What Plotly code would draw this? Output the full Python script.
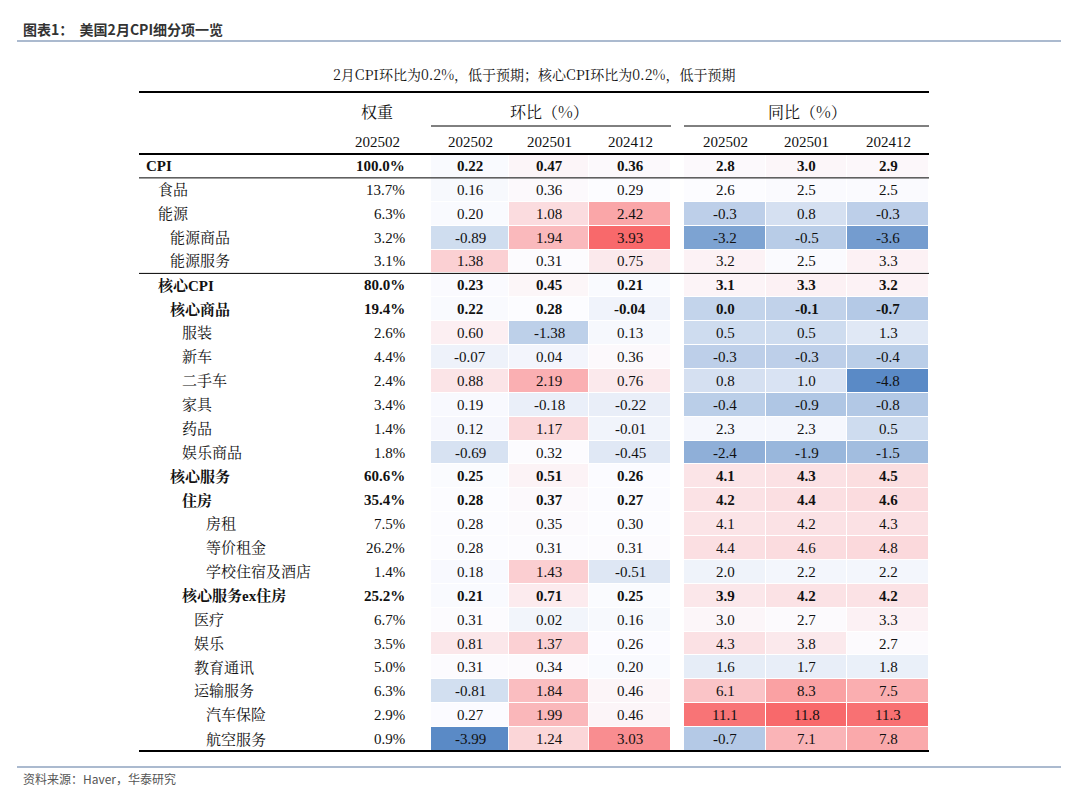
import numpy as np
import plotly.graph_objects as go

labels = ["CPI", "食品", "能源", "能源商品", "能源服务", "核心CPI", "核心商品", "服装", "新车",
          "二手车", "家具", "药品", "娱乐商品", "核心服务", "住房", "房租", "等价租金",
          "学校住宿及酒店", "核心服务ex住房", "医疗", "娱乐", "教育通讯", "运输服务", "汽车保险", "航空服务"]
levels = [0, 1, 1, 2, 2, 1, 2, 3, 3, 3, 3, 3, 3, 2, 3, 5, 5, 5, 3, 4, 4, 4, 4, 5, 5]
bold = ["CPI", "核心CPI", "核心商品", "核心服务", "住房", "核心服务ex住房"]
weights = ["100.0%", "13.7%", "6.3%", "3.2%", "3.1%", "80.0%", "19.4%", "2.6%", "4.4%", "2.4%",
           "3.4%", "1.4%", "1.8%", "60.6%", "35.4%", "7.5%", "26.2%", "1.4%", "25.2%", "6.7%",
           "3.5%", "5.0%", "6.3%", "2.9%", "0.9%"]
mom_202502 = [0.22, 0.16, 0.20, -0.89, 1.38, 0.23, 0.22, 0.60, -0.07, 0.88, 0.19, 0.12, -0.69,
              0.25, 0.28, 0.28, 0.28, 0.18, 0.21, 0.31, 0.81, 0.31, -0.81, 0.27, -3.99]
mom_202501 = [0.47, 0.36, 1.08, 1.94, 0.31, 0.45, 0.28, -1.38, 0.04, 2.19, -0.18, 1.17, 0.32,
              0.51, 0.37, 0.35, 0.31, 1.43, 0.71, 0.02, 1.37, 0.34, 1.84, 1.99, 1.24]
mom_202412 = [0.36, 0.29, 2.42, 3.93, 0.75, 0.21, -0.04, 0.13, 0.36, 0.76, -0.22, -0.01, -0.45,
              0.26, 0.27, 0.30, 0.31, -0.51, 0.25, 0.16, 0.26, 0.20, 0.46, 0.46, 3.03]
yoy_202502 = [2.8, 2.6, -0.3, -3.2, 3.2, 3.1, 0.0, 0.5, -0.3, 0.8, -0.4, 2.3, -2.4,
              4.1, 4.2, 4.1, 4.4, 2.0, 3.9, 3.0, 4.3, 1.6, 6.1, 11.1, -0.7]
yoy_202501 = [3.0, 2.5, 0.8, -0.5, 2.5, 3.3, -0.1, 0.5, -0.3, 1.0, -0.9, 2.3, -1.9,
              4.3, 4.4, 4.2, 4.6, 2.2, 4.2, 2.7, 3.8, 1.7, 8.3, 11.8, 7.1]
yoy_202412 = [2.9, 2.5, -0.3, -3.6, 3.3, 3.2, -0.7, 1.3, -0.4, -4.8, -0.8, 0.5, -1.5,
              4.5, 4.6, 4.3, 4.8, 2.2, 4.2, 3.3, 2.7, 1.8, 7.5, 11.3, 7.8]
periods = ["202502", "202501", "202412"]

n = len(labels)
row_h = 23.88
y_edges = [155 + row_h * k for k in range(n + 1)]
y_cent = [(y_edges[k] + y_edges[k + 1]) / 2 for k in range(n)]
mom_x = [432, 510, 590, 672]
yoy_x = [685, 767, 848, 930]

colorscale = [[0, "#5A8AC6"], [0.5, "#FCFCFF"], [1, "#F8696B"]]


def norm(cols):
    z = np.array(cols).T
    lo, mid, hi = z.min(), np.median(z), z.max()
    return np.where(z <= mid, 0.5 * (z - lo) / (mid - lo), 0.5 + 0.5 * (z - mid) / (hi - mid))


fig = go.Figure()
for xe, cols in [(mom_x, [mom_202502, mom_202501, mom_202412]),
                 (yoy_x, [yoy_202502, yoy_202501, yoy_202412])]:
    fig.add_trace(go.Heatmap(x=xe, y=y_edges, z=norm(cols), colorscale=colorscale, zmin=0, zmax=1,
                             showscale=False, xgap=1, ygap=1, hoverinfo="skip"))

SERIF = "Liberation Serif, Noto Serif CJK SC, Noto Sans CJK SC"
CJK = "Noto Serif CJK SC, Noto Sans CJK SC"
ann = []


def txt(x, y, s, size=15, anchor="center", b=False, family=SERIF, color="#111"):
    if b:
        s = "<b>" + s + "</b>"
    ann.append(dict(x=x, y=y, text=s, showarrow=False, xanchor=anchor, yanchor="middle",
                    font=dict(size=size, family=family, color=color)))


txt(22, 30, "<b>图表1：  美国2月CPI细分项一览</b>", 14, "left", family="Noto Sans CJK SC", color="#333")
txt(535, 75, "2月CPI环比为0.2%，低于预期；核心CPI环比为0.2%，低于预期", 14, family=CJK)
txt(378, 112, "权重", 16, family=CJK)
txt(550, 112, "环比（%）", 16, family=CJK)
txt(808, 112, "同比（%）", 16, family=CJK)
txt(378, 143, "202502", 15)
for i, p in enumerate(periods):
    txt((mom_x[i] + mom_x[i + 1]) / 2, 143, p, 15)
    txt((yoy_x[i] + yoy_x[i + 1]) / 2, 143, p, 15)
txt(22, 779, "资料来源：Haver，华泰研究", 12, "left", family="Noto Sans CJK SC", color="#555")

for r in range(n):
    b = labels[r] in bold
    y = y_cent[r]
    txt(145 + 12 * levels[r], y, labels[r], 15, "left", b)
    txt(408, y, weights[r], 15, "right", b)
    for i, col in enumerate([mom_202502, mom_202501, mom_202412]):
        txt((mom_x[i] + mom_x[i + 1]) / 2, y, f"{col[r]:.2f}", 15, b=b)
    for i, col in enumerate([yoy_202502, yoy_202501, yoy_202412]):
        txt((yoy_x[i] + yoy_x[i + 1]) / 2, y, f"{col[r]:.1f}", 15, b=b)

shapes = [
    dict(type="line", x0=18, x1=1062, y0=42, y1=42, line=dict(color="#8fa3bf", width=1.5)),
    dict(type="line", x0=18, x1=1062, y0=768, y1=768, line=dict(color="#8fa3bf", width=1.5)),
    dict(type="line", x0=140, x1=930, y0=93, y1=93, line=dict(color="#000", width=2)),
    dict(type="line", x0=432, x1=672, y0=127, y1=127, line=dict(color="#000", width=1)),
    dict(type="line", x0=685, x1=930, y0=127, y1=127, line=dict(color="#000", width=1)),
    dict(type="line", x0=140, x1=930, y0=155, y1=155, line=dict(color="#000", width=2)),
    dict(type="line", x0=140, x1=930, y0=y_edges[1], y1=y_edges[1], line=dict(color="#000", width=1)),
    dict(type="line", x0=140, x1=930, y0=y_edges[5], y1=y_edges[5], line=dict(color="#000", width=1)),
    dict(type="line", x0=140, x1=930, y0=y_edges[-1], y1=y_edges[-1], line=dict(color="#000", width=2)),
]

# the page body adds a small offset, so shift the visible window to compensate
fig.update_layout(
    width=1080, height=809, margin=dict(l=0, r=0, t=0, b=0),
    paper_bgcolor="white", plot_bgcolor="white",
    xaxis=dict(range=[9, 1089], visible=False, fixedrange=True),
    yaxis=dict(range=[818, 9], visible=False, fixedrange=True),
    annotations=ann, shapes=shapes,
)
fig.write_html("out.html")
